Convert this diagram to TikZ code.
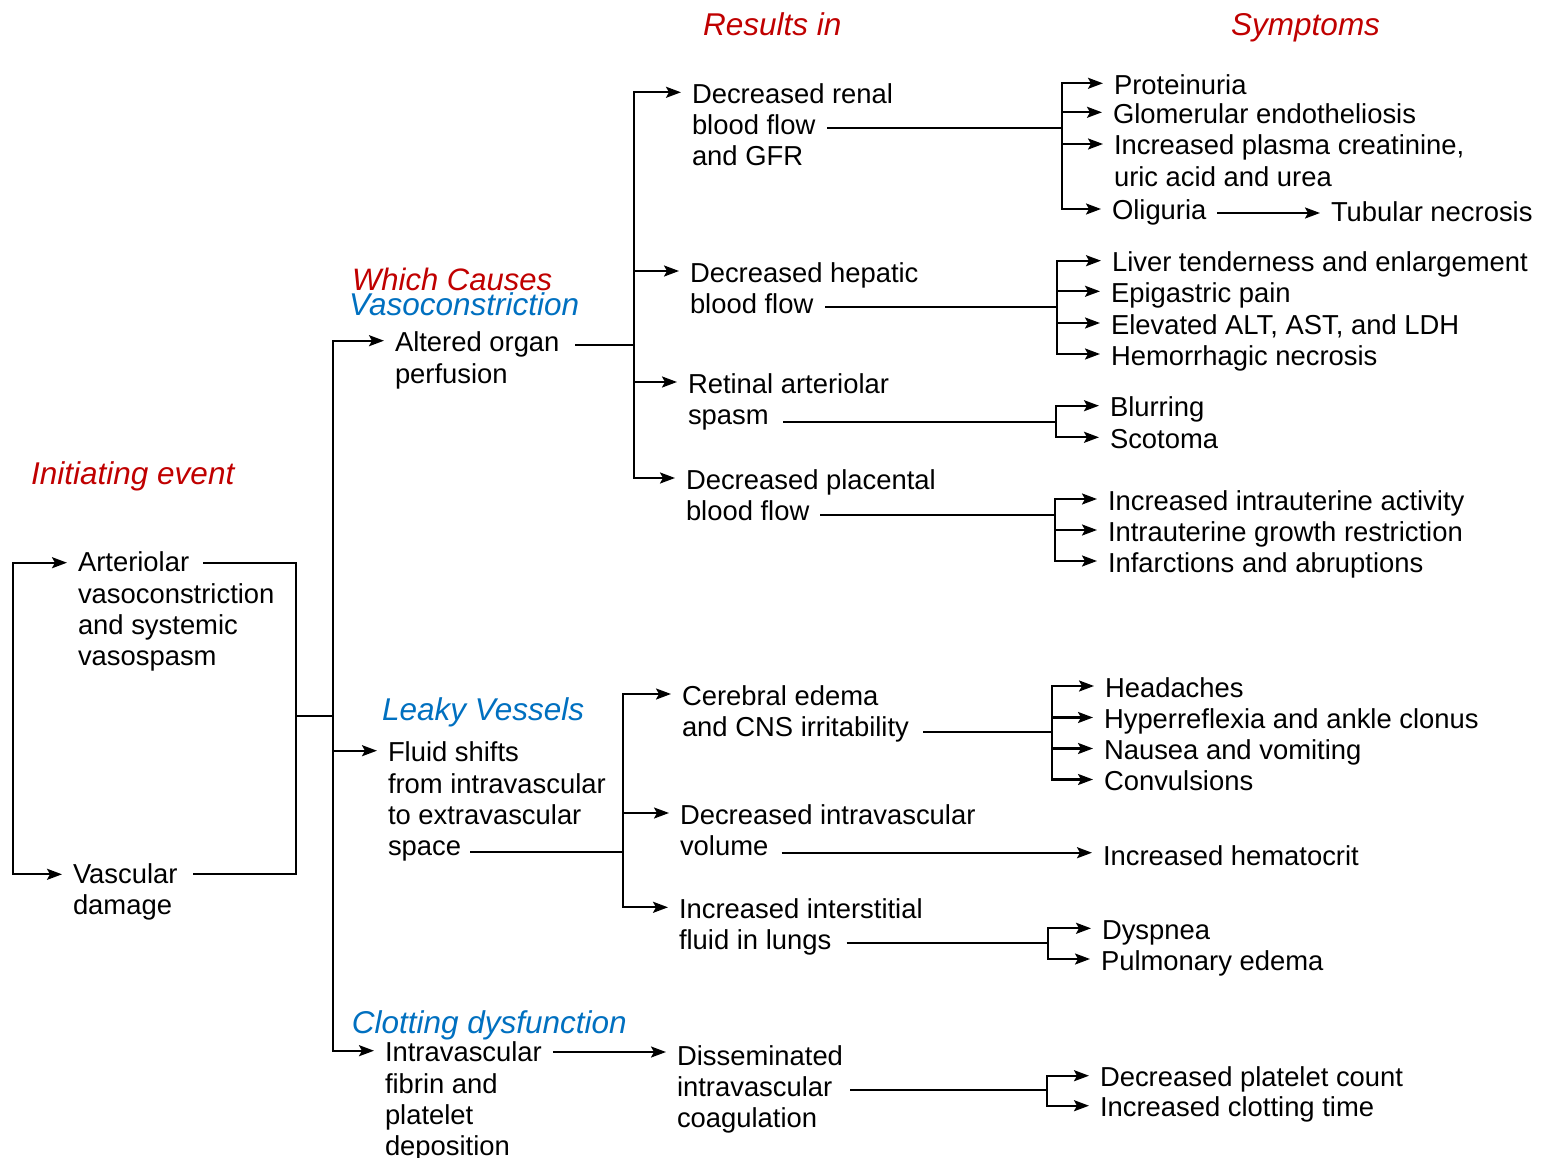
\documentclass[tikz,border=0pt]{standalone}
\usepackage{fontspec}
\setmainfont{Liberation Sans}
\usetikzlibrary{arrows.meta}
\definecolor{redlab}{RGB}{192,0,0}
\definecolor{bluelab}{RGB}{0,112,192}
\newcommand\ml[1]{\begin{tabular}[t]{@{}l@{}}#1\end{tabular}}
\begin{document}
\begin{tikzpicture}[x=1pt,y=-1pt,
  t/.style={font=\fontsize{27.4}{31.3}\selectfont, anchor=base west, inner sep=0pt, outer xsep=11pt, xshift=-11pt},
  lab/.style={font=\fontsize{31.5}{34}\selectfont\itshape, anchor=base west, inner sep=0pt},
  ln/.style={line width=2.2pt},
  ar/.style={ln, -{Stealth[length=15pt,width=11pt,inset=3pt]}},
  dbl/.style={ln, {Stealth[length=15pt,width=11pt,inset=3pt]}-{Stealth[length=15pt,width=11pt,inset=3pt]}}]
\fill[white] (0,0) rectangle (1546,1158);
\useasboundingbox (0,0) rectangle (1546,1158);

% column headings and group labels
\node[lab, text=redlab] (res) at (703,36) {Results in};
\node[lab, text=redlab] (sym) at (1231,36) {Symptoms};
\node[lab, text=redlab, font=\fontsize{31}{34}\selectfont\itshape] (wc) at (352,290) {Which Causes};
\node[lab, text=bluelab] (vc) at (349,315) {Vasoconstriction};
\node[lab, text=redlab] (ie) at (31,484) {Initiating event};
\node[lab, text=bluelab] (lv) at (382,720.7) {Leaky Vessels};
\node[lab, text=bluelab] (cd) at (351.7,1033) {Clotting dysfunction};

% initiating events
\node[t] (art) at (78,571.7) {\ml{Arteriolar\\vasoconstriction\\and systemic\\vasospasm}};
\node[t] (vd) at (73,883.3) {\ml{Vascular\\damage}};

% causes
\node[t] (alt) at (395,351.7) {\ml{Altered organ\\perfusion}};
\node[t] (flu) at (388,761.7) {\ml{Fluid shifts\\from intravascular\\to extravascular\\space}};
\node[t] (intra) at (385,1061.7) {\ml{Intravascular\\fibrin and\\platelet\\deposition}};

% results
\node[t] (ren) at (692,103.3) {\ml{Decreased renal\\blood flow\\and GFR}};
\node[t] (hep) at (690,282) {\ml{Decreased hepatic\\blood flow}};
\node[t] (ret) at (688,393) {\ml{Retinal arteriolar\\spasm}};
\node[t] (pla) at (686,489) {\ml{Decreased placental\\blood flow}};
\node[t] (cer) at (682,705) {\ml{Cerebral edema\\and CNS irritability}};
\node[t] (div) at (680,824) {\ml{Decreased intravascular\\volume}};
\node[t] (iif) at (679,918.3) {\ml{Increased interstitial\\fluid in lungs}};
\node[t] (dic) at (677,1065) {\ml{Disseminated\\intravascular\\coagulation}};

% symptoms
\node[t] (pro) at (1114,94.3) {Proteinuria};
\node[t] (glo) at (1113,123.3) {Glomerular endotheliosis};
\node[t] (inc) at (1114,155) {\ml{Increased plasma creatinine,\\uric acid and urea}};
\node[t] (oli) at (1112,220) {Oliguria};
\node[t] (tub) at (1331,221.5) {Tubular necrosis};
\node[t] (liv) at (1112,271.7) {Liver tenderness and enlargement};
\node[t] (epi) at (1111,302.3) {Epigastric pain};
\node[t] (ele) at (1111,334) {Elevated ALT, AST, and LDH};
\node[t] (hem) at (1111,365) {Hemorrhagic necrosis};
\node[t] (blu) at (1110,416.7) {Blurring};
\node[t] (sco) at (1110,448.3) {Scotoma};
\node[t] (iia) at (1108,510) {Increased intrauterine activity};
\node[t] (igr) at (1108,541) {Intrauterine growth restriction};
\node[t] (inf) at (1108,572) {Infarctions and abruptions};
\node[t] (hea) at (1105,697) {Headaches};
\node[t] (hyp) at (1104,728.5) {Hyperreflexia and ankle clonus};
\node[t] (nau) at (1104,759.5) {Nausea and vomiting};
\node[t] (con) at (1104,790.5) {Convulsions};
\node[t] (hct) at (1103,865) {Increased hematocrit};
\node[t] (dys) at (1102,939.3) {Dyspnea};
\node[t] (pul) at (1101,970) {Pulmonary edema};
\node[t] (dpc) at (1100,1086.7) {Decreased platelet count};
\node[t] (ict) at (1100,1116.7) {Increased clotting time};

% junction coordinates
\coordinate (L) at (13,718);
\coordinate (artO) at (203,562.7);
\coordinate (vdO) at (193,874.3);
\coordinate (J1) at (296,715.7);
\coordinate (M) at (333,715.7);
\coordinate (altO) at (575,345);
\coordinate (B1) at (634,345);
\coordinate (renO) at (827,128.3);
\coordinate (B2) at (1061.7,128.3);
\coordinate (hepO) at (825,306.7);
\coordinate (B3) at (1057.3,306.7);
\coordinate (retO) at (783,421.7);
\coordinate (B4) at (1056,421.7);
\coordinate (plaO) at (820,515);
\coordinate (B5) at (1055,515);
\coordinate (fluO) at (470,851.7);
\coordinate (B6) at (623,851.7);
\coordinate (cerO) at (923,731.7);
\coordinate (B7) at (1051.7,731.7);
\coordinate (volO) at (781.7,852.7);
\coordinate (iifO) at (846.7,943.3);
\coordinate (B8) at (1048.3,943.3);
\coordinate (dicO) at (850,1090);
\coordinate (B9) at (1046.7,1090);

% initiating loop
\draw[dbl] ([yshift=9pt]art.base west) -| (L) |- ([yshift=9pt]vd.base west);
\draw[ln] (artO) -| (J1) |- (vdO);
\draw[ln] (J1) -- (M);

% main bus
\draw[ar] (M) |- ([yshift=11pt]alt.base west);
\draw[ar] (M) |- ([yshift=11pt]flu.base west);
\draw[ar] (M) |- ([yshift=11pt]intra.base west);

% altered organ perfusion
\draw[ln] (altO) -- (B1);
\foreach \n in {ren,hep,ret,pla} \draw[ar] (B1) |- ([yshift=11pt]\n.base west);

% renal
\draw[ln] (renO) -- (B2);
\foreach \n in {pro,glo,inc,oli} \draw[ar] (B2) |- ([yshift=11pt]\n.base west);
\draw[ar] ([yshift=7pt]oli.base east) -- ([yshift=7pt]oli.base east -| tub.base west);

% hepatic
\draw[ln] (hepO) -- (B3);
\foreach \n in {liv,epi,ele,hem} \draw[ar] (B3) |- ([yshift=11pt]\n.base west);

% retinal
\draw[ln] (retO) -- (B4);
\foreach \n in {blu,sco} \draw[ar] (B4) |- ([yshift=11pt]\n.base west);

% placental
\draw[ln] (plaO) -- (B5);
\foreach \n in {iia,igr,inf} \draw[ar] (B5) |- ([yshift=11pt]\n.base west);

% fluid shifts
\draw[ln] (fluO) -- (B6);
\foreach \n in {cer,div,iif} \draw[ar] (B6) |- ([yshift=11pt]\n.base west);

% cerebral
\draw[ln] (cerO) -- (B7);
\foreach \n in {hea,hyp,nau,con} \draw[ar] (B7) |- ([yshift=11pt]\n.base west);

% volume
\draw[ar] (volO) -- (volO -| hct.base west);

% lungs
\draw[ln] (iifO) -- (B8);
\foreach \n in {dys,pul} \draw[ar] (B8) |- ([yshift=11pt]\n.base west);

% clotting
\draw[ar] ([yshift=9.7pt]intra.base east) -- ([yshift=9.7pt]intra.base east -| dic.base west);
\draw[ln] (dicO) -- (B9);
\foreach \n in {dpc,ict} \draw[ar] (B9) |- ([yshift=11pt]\n.base west);
\end{tikzpicture}
\end{document}
